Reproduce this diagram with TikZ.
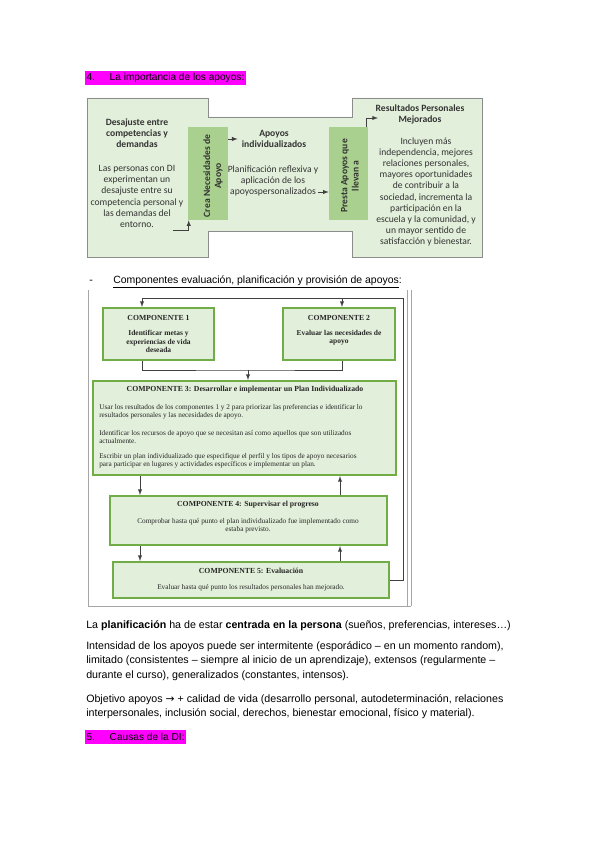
\documentclass[tikz,border=0pt]{standalone}
\usepackage{fontspec}
\setmainfont{Liberation Sans}
\newfontfamily\calfont{Carlito}
\newfontfamily\camfont{Liberation Serif}
\newfontfamily\symfont{DejaVu Sans}
\usetikzlibrary{positioning}
\definecolor{hlmag}{HTML}{FF00FF}
\definecolor{palegreen}{HTML}{E2EFDA}
\definecolor{midgreen}{HTML}{A9D08E}
\definecolor{boxgreen}{HTML}{70AD47}
\definecolor{edgegray}{HTML}{8C8C8C}
\definecolor{linkgray}{HTML}{404040}
\definecolor{framegray}{HTML}{A6A6A6}
\tikzset{
  bodyline/.style={anchor=base west, inner sep=0pt, font=\fontsize{8}{9.5}\selectfont},
  heading/.style={anchor=base west, fill=hlmag, inner xsep=1pt, inner ysep=1.2pt,
    text height=6.6pt, text depth=1.8pt, font=\fontsize{7.6}{9}\selectfont},
  caltext/.style={align=center, inner sep=0pt, text=black!80,
    font=\calfont\fontsize{7.2}{8.4}\selectfont},
  sidebar/.style={fill=midgreen, draw=none},
  compbox/.style={draw=boxgreen, line width=1.5pt, fill=palegreen},
  camtext/.style={align=center, inner sep=0pt, text=black!85,
    font=\camfont\fontsize{5.45}{6.1}\selectfont},
  camtitle/.style={camtext, font=\camfont\bfseries\fontsize{5.8}{6.1}\selectfont},
  link/.style={draw=linkgray, line width=0.5pt},
}
\begin{document}
\begin{tikzpicture}[x=0.75pt,y=-0.75pt,>=latex]
  \useasboundingbox[fill=white] (0,0) rectangle (599,848);

  % Heading 4
  \node[heading] (head4) at (85,81) {4.\hspace{11pt}La importancia de los apoyos:};

  % First diagram: outline
  \draw[edgegray, fill=palegreen, line width=0.6pt]
    (87,98) -- (208,98) -- (208,117) -- (352,117) -- (352,98) -- (482,98)
    -- (482,257) -- (352,257) -- (352,231) -- (208,231) -- (208,257)
    -- (87,257) -- cycle;
  \node[sidebar, minimum width=30pt, minimum height=69.75pt] (crea) at (208,173.5) {};
  \node[sidebar, minimum width=29.25pt, minimum height=69.75pt] (presta) at (348.5,173.5) {};
  \node[caltext, rotate=90, font=\calfont\bfseries\fontsize{7.2}{8.4}\selectfont] (creatext)
    at (213,176) {Crea Necesidades de\\Apoyo};
  \node[caltext, rotate=90, font=\calfont\bfseries\fontsize{7.2}{8.4}\selectfont] (prestatext)
    at (350,176) {Presta Apoyos que\\llevan a};

  % Texts of the three panels
  \node[caltext, font=\calfont\bfseries\fontsize{7.2}{8.4}\selectfont] (desajuste) at (137,133)
    {Desajuste entre\\competencias y\\demandas};
  \node[caltext] (desajbody) at (137,196.5)
    {Las personas con DI\\experimentan un\\desajuste entre su\\competencia personal y\\las demandas del\\entorno.};
  \node[caltext, font=\calfont\bfseries\fontsize{7.2}{8.4}\selectfont] (apoyos) at (274,139)
    {Apoyos\\individualizados};
  \node[caltext] (planif) at (273,181)
    {Planificación reflexiva y\\aplicación de los\\apoyospersonalizados};
  \node[caltext, font=\calfont\bfseries\fontsize{7.2}{8.4}\selectfont] (resultados) at (420,114.5)
    {Resultados Personales\\Mejorados};
  \node[caltext] (resbody) at (426,192)
    {Incluyen más\\independencia, mejores\\relaciones personales,\\mayores oportunidades\\de contribuir a la\\sociedad, incrementa la\\participación en la\\escuela y la comunidad, y\\un mayor sentido de\\satisfacción y bienestar.};

  % Arrows of the first diagram
  \coordinate (inL) at (173,230);
  \coordinate (plout) at (318,192);
  \coordinate (resin) at (378,118);
  \draw[link,->] (inL) -| ([xshift=0.75pt]crea.south west);
  \draw[link,->] (crea.east |- apoyos.west) -- ([xshift=-3pt]apoyos.west);
  \draw[link,->] (plout) -- (presta.west |- plout);
  \draw[link,->] ([xshift=-1.5pt]presta.north east) |- (resin);

  % Second heading
  \node[bodyline] (dash) at (89,283) {-};
  \node[bodyline, font=\fontsize{7.85}{9.5}\selectfont] (head2) at (113,283)
    {\underline{Componentes evaluación, planificación y provisión de apoyos}:};

  % Second diagram: frame
  \draw[framegray, line width=0.6pt] (88,290) -- (88,606) -- (411,606);
  \draw[framegray, line width=0.6pt] (407,290) -- (407,606);
  \draw[framegray, line width=0.6pt] (411,290) -- (411,606);

  % Components
  \node[compbox, minimum width=83.25pt, minimum height=39pt] (c1) at (158.5,334) {};
  \node[compbox, minimum width=84pt, minimum height=39pt] (c2) at (339,334) {};
  \node[compbox, minimum width=227.25pt, minimum height=70.5pt] (c3) at (244.5,428) {};
  \node[compbox, minimum width=207.75pt, minimum height=36.75pt] (c4) at (248.5,520.5) {};
  \node[compbox, minimum width=207pt, minimum height=27pt] (c5) at (251,580) {};

  \node[camtitle] (c1title) at (158.5,318) {COMPONENTE 1};
  \node[camtext, font=\camfont\bfseries\fontsize{5.6}{6.4}\selectfont] (c1body) at (158.5,341.5)
    {Identificar metas y\\experiencias de vida\\deseada};
  \node[camtitle] (c2title) at (339,318) {COMPONENTE 2};
  \node[camtext, font=\camfont\bfseries\fontsize{5.6}{6.4}\selectfont] (c2body) at (339,337.5)
    {Evaluar las necesidades de\\apoyo};
  \node[camtitle] (c3title) at (245,390)
    {COMPONENTE 3: Desarrollar e implementar un Plan Individualizado};
  \node[camtext, align=left, anchor=west] (c3p1) at (99,412)
    {Usar los resultados de los componentes 1 y 2 para priorizar las preferencias e identificar lo\\resultados personales y las necesidades de apoyo.};
  \node[camtext, align=left, anchor=west] (c3p2) at (99,437)
    {Identificar los recursos de apoyo que se necesitan así como aquellos que son utilizados\\actualmente.};
  \node[camtext, align=left, anchor=west] (c3p3) at (99,461)
    {Escribir un plan individualizado que especifique el perfil y los tipos de apoyo necesarios\\para participar en lugares y actividades específicos e implementar un plan.};
  \node[camtitle] (c4title) at (248,505)
    {COMPONENTE 4: Supervisar el progreso};
  \node[camtext] (c4body) at (248,526)
    {Comprobar hasta qué punto el plan individualizado fue implementado como\\estaba previsto.};
  \node[camtitle] (c5title) at (251,571)
    {COMPONENTE 5: Evaluación};
  \node[camtext] (c5body) at (251,588)
    {Evaluar hasta qué punto los resultados personales han mejorado.};

  % Connectors of the second diagram
  \coordinate (topL) at (142,298);
  \coordinate (topM) at (342,298);
  \coordinate (topR) at (403,298);
  \coordinate (midJ) at (248,370);
  \coordinate (downx) at (140,0);
  \coordinate (upx) at (340,0);
  \draw[link] (c5.east) -| (topR) -- (topL);
  \draw[link,->] (topL) -- (topL |- c1.north);
  \draw[link,->] (topM) -- (topM |- c2.north);
  \draw[link] (topL |- c1.south) |- (midJ) -| (topM |- c2.south);
  \draw[link,->] (midJ) -- (midJ |- c3.north);
  \draw[link,->] (downx |- c3.south) -- (downx |- c4.north);
  \draw[link,->] (upx |- c4.north) -- (upx |- c3.south);
  \draw[link,->] (downx |- c4.south) -- (downx |- c5.north);
  \draw[link,->] (upx |- c5.north) -- (upx |- c4.south);

  % Body text
  \node[bodyline] (t1) at (86,628)
    {La \textbf{planificación} ha de estar \textbf{centrada en la persona} (sueños, preferencias, intereses…)};
  \node[bodyline] (t2) at (86,649)
    {Intensidad de los apoyos puede ser intermitente (esporádico – en un momento random),};
  \node[bodyline] (t3) at (86,663.5)
    {limitado (consistentes – siempre al inicio de un aprendizaje), extensos (regularmente –};
  \node[bodyline] (t4) at (86,678)
    {durante el curso), generalizados (constantes, intensos).};
  \node[bodyline] (t5) at (86,702)
    {Objetivo apoyos {\symfont\fontsize{8}{9}\selectfont →} + calidad de vida (desarrollo personal, autodeterminación, relaciones};
  \node[bodyline] (t6) at (86,716.5)
    {interpersonales, inclusión social, derechos, bienestar emocional, físico y material).};

  % Heading 5
  \node[heading] (head5) at (85,740) {5.\hspace{11pt}Causas de la DI:};
\end{tikzpicture}
\end{document}
